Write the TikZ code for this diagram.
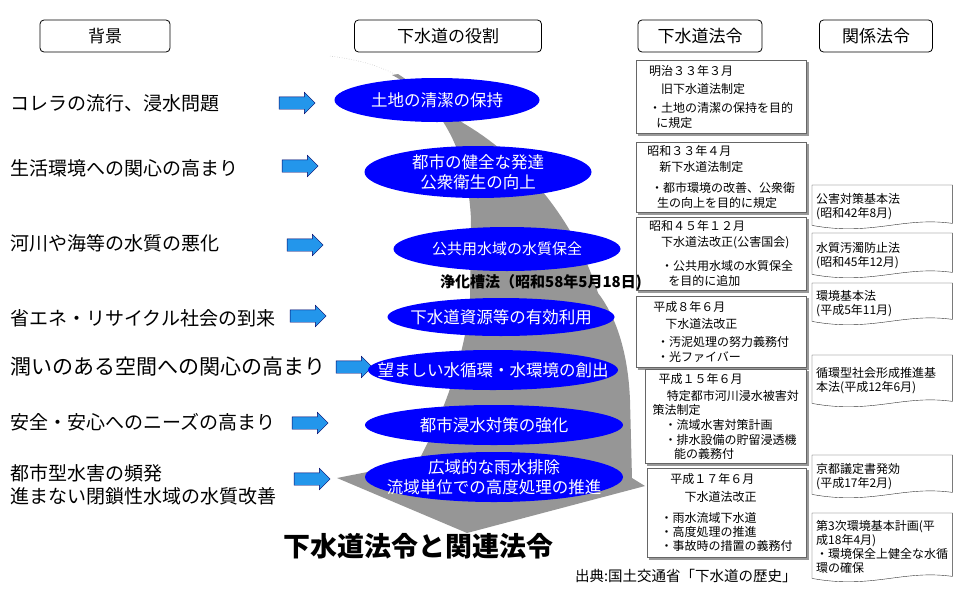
\documentclass[tikz,border=0pt]{standalone}
\usepackage{fontspec}
\setmainfont{Noto Sans CJK JP}
\usetikzlibrary{positioning,shapes.geometric,shapes.arrows,shadows}
\definecolor{roleblue}{RGB}{0,0,255}
\definecolor{pushblue}{RGB}{35,150,235}
\definecolor{bandgray}{RGB}{150,150,150}

\begin{document}
\begin{tikzpicture}[x=1pt, y=-1pt,
headnode/.style={rectangle, rounded corners=4pt, draw=black, thick, fill=white, minimum height=32pt, font=\fontsize{17}{20}\selectfont},
bgtext/.style={anchor=west, align=left, inner sep=0pt, font=\fontsize{19}{23}\selectfont},
rolenode/.style={ellipse, fill=roleblue, inner sep=0pt},
roletext/.style={text=white, align=center, inner sep=0pt, font=\fontsize{16.5}{20}\selectfont},
pusharrow/.style={single arrow, draw=black!60!blue, fill=pushblue, inner sep=6pt, minimum height=36pt, single arrow head extend=4.5pt},
lawnode/.style={rectangle, draw=black!60, fill=white, anchor=north west, align=left, inner xsep=4pt, font=\fontsize{12}{15}\selectfont, copy shadow={shadow xshift=2pt, shadow yshift=-2pt, fill=black!40, draw=black!40}},
relnode/.style={rectangle, anchor=north west, align=left, minimum width=140pt, text width=132pt, inner xsep=4pt, font=\fontsize{12}{14}\selectfont},
]
\useasboundingbox (0,0) rectangle (970,595);

%Band
\draw[bandgray, dotted] (330,56) .. controls (360,60) and (380,66) .. (396,75);
\fill[bandgray] (392,75) .. controls (440,100) and (468,150) .. (471,220) -- (470,300)
  .. controls (465,360) and (440,420) .. (418,462) -- (337,478) -- (467,533) -- (645,486) -- (632,478)
  -- (630,400) .. controls (628,350) and (615,315) .. (598,293)
  .. controls (580,235) and (535,165) .. (463,123) .. controls (440,105) and (420,88) .. (398,74) -- cycle;

%Headers
\node[headnode, minimum width=130pt] (hbg)   at (105,36) {背景};
\node[headnode, minimum width=187pt] (hrole) at (448,36) {下水道の役割};
\node[headnode, minimum width=124pt] (hlaw)  at (700,36) {下水道法令};
\node[headnode, minimum width=113pt] (hrel)  at (876,36) {関係法令};

%Background
\node[bgtext] (bg1) at (10,103) {コレラの流行、浸水問題};
\node[bgtext] (bg2) at (10,168) {生活環境への関心の高まり};
\node[bgtext] (bg3) at (10,243) {河川や海等の水質の悪化};
\node[bgtext] (bg4) at (10,318) {省エネ・リサイクル社会の到来};
\node[bgtext, font=\fontsize{21}{24}\selectfont] (bg5) at (10,367) {潤いのある空間への関心の高まり};
\node[bgtext] (bg6) at (10,422) {安全・安心へのニーズの高まり};
\node[bgtext] (bg7) at (10,485) {都市型水害の頻発\\進まない閉鎖性水域の水質改善};

%Arrows
\node[pusharrow] (push1) at (294,103) {};
\node[pusharrow] (push2) at (297,166) {};
\node[pusharrow] (push3) at (302,245) {};
\node[pusharrow] (push4) at (305,316) {};
\node[pusharrow] (push5) at (351,367) {};
\node[pusharrow] (push6) at (307,423) {};
\node[pusharrow] (push7) at (309,479) {};

%Roles
\node[rolenode, minimum width=205pt, minimum height=44pt, label={[roletext]center:土地の清潔の保持}] (role1) at (437,100) {};
\node[rolenode, minimum width=227pt, minimum height=52pt, label={[roletext]center:{都市の健全な発達\\公衆衛生の向上}}] (role2) at (478,172) {};
\node[rolenode, minimum width=227pt, minimum height=44pt, label={[roletext, font=\fontsize{15}{18}\selectfont]center:公共用水域の水質保全}] (role3) at (507,249) {};
\node[rolenode, minimum width=227pt, minimum height=38pt, label={[roletext]center:下水道資源等の有効利用}] (role4) at (501,317) {};
\node[rolenode, minimum width=250pt, minimum height=40pt, label={[roletext]center:望ましい水循環・水環境の創出}] (role5) at (493,370) {};
\node[rolenode, minimum width=258pt, minimum height=40pt, label={[roletext]center:都市浸水対策の強化}] (role6) at (494,425) {};
\node[rolenode, minimum width=258pt, minimum height=50pt, label={[roletext]center:{広域的な雨水排除\\流域単位での高度処理の推進}}] (role7) at (494,477) {};

%Laws
\node[lawnode, minimum width=170pt, minimum height=73pt] (law1) at (636,60)
  {明治３３年３月\\[3pt]\hspace*{1em}旧下水道法制定\\[4pt]・土地の清潔の保持を目的\\\hspace*{0.6em}に規定};
\node[lawnode, minimum width=170pt, minimum height=66pt] (law2) at (636,142)
  {昭和３３年４月\\[1pt]\hspace*{1em}新下水道法制定\\[6pt]\hspace*{0.3em}・都市環境の改善、公衆衛\\\hspace*{0.8em}生の向上を目的に規定};
\node[lawnode, minimum width=170pt, minimum height=73pt] (law3) at (636,217)
  {昭和４５年１２月\\[1pt]\hspace*{1em}下水道法改正(公害国会)\\[9pt]\hspace*{1em}・公共用水域の水質保全\\\hspace*{1.6em}を目的に追加};
\node[lawnode, minimum width=170pt, minimum height=71pt] (law4) at (636,296)
  {平成８年６月\\[2pt]\hspace*{1em}下水道法改正\\[3pt]\hspace*{0.3em}・汚泥処理の努力義務付\\\hspace*{0.3em}・光ファイバー};
\node[lawnode, minimum width=161pt, minimum height=94pt, font=\fontsize{12}{14}\selectfont] (law5) at (645,369)
  {\hspace*{0.5em}平成１５年６月\\[3pt]\hspace*{1.2em}特定都市河川浸水被害対\\策法制定\\[1pt]\hspace*{1em}・流域水害対策計画\\[1pt]\hspace*{1em}・排水設備の貯留浸透機\\\hspace*{1.8em}能の義務付};
\node[lawnode, minimum width=159pt, minimum height=89pt, font=\fontsize{12}{14}\selectfont] (law6) at (647,468)
  {\hspace*{0.8em}平成１７年６月\\[4pt]\hspace*{2em}下水道法改正\\[7pt]・雨水流域下水道\\・高度処理の推進\\・事故時の措置の義務付};

%Related laws
\node[relnode, minimum height=43pt] (rel1) at (812,185) {公害対策基本法\\(昭和42年8月)};
\node[relnode, minimum height=44pt] (rel2) at (812,233) {水質汚濁防止法\\(昭和45年12月)};
\node[relnode, minimum height=41pt] (rel3) at (812,283) {環境基本法\\(平成5年11月)};
\node[relnode, minimum height=51pt] (rel4) at (812,355) {循環型社会形成推進基\\本法(平成12年6月)\\[8pt]};
\node[relnode, minimum height=42pt] (rel5) at (812,455) {京都議定書発効\\(平成17年2月)};
\node[relnode, minimum height=68pt] (rel6) at (812,513) {第3次環境基本計画(平\\成18年4月)\\・環境保全上健全な水循\\環の確保};
\foreach \n in {rel1,rel2,rel3,rel4,rel5,rel6}
  \draw[black!80] (\n.north west) -- (\n.north east) -- ([yshift=5pt]\n.south east)
    .. controls ([shift={(-50pt,12pt)}]\n.south east) and ([shift={(60pt,-8pt)}]\n.south west) .. ([yshift=3pt]\n.south west) -- cycle;

%Texts
\node[font=\fontsize{15}{17}\bfseries, anchor=west, inner sep=0pt] (septic) at (440,283) {浄化槽法（昭和58年5月18日)};
\node[font=\fontsize{27}{30}\bfseries, anchor=west, inner sep=0pt] (title) at (283,546) {下水道法令と関連法令};
\node[font=\fontsize{14.5}{17}\selectfont, anchor=west, inner sep=0pt] (source) at (575,576) {出典:国土交通省「下水道の歴史」};
\end{tikzpicture}
\end{document}
